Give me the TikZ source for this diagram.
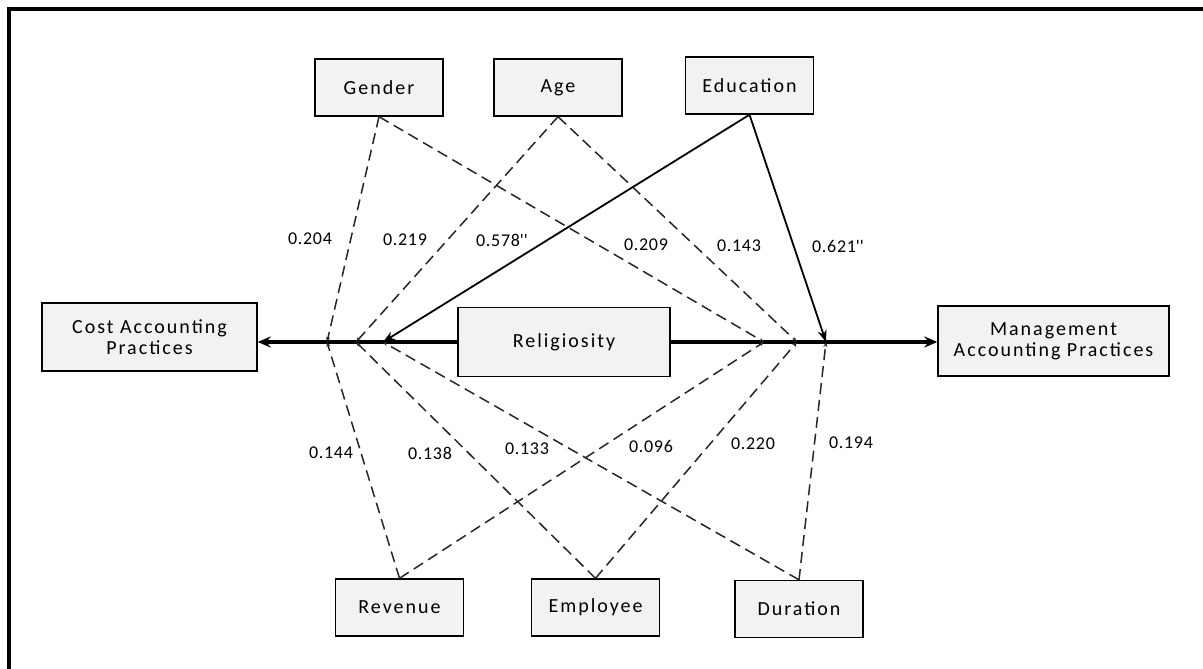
\documentclass[tikz,border=0pt]{standalone}
\usepackage{fontspec}
\setmainfont{Carlito}
\newfontfamily\boxfont[LetterSpace=10]{Carlito}
\newfontfamily\lblfont[LetterSpace=4]{Carlito}
\usetikzlibrary{arrows.meta}
\tikzset{
  varbox/.style={draw, line width=1.4pt, fill=black!5, minimum width=128pt, minimum height=57pt,
    inner sep=0pt, align=center, font=\boxfont\fontsize{20}{21}\selectfont},
  modline/.style={line width=1.5pt, draw=black!85, dash pattern=on 11pt off 6pt, -{Stealth[length=5pt,width=4pt]}},
  eduline/.style={line width=1.8pt, -{Stealth[length=12pt,width=9pt]}},
  mainline/.style={line width=3.5pt, -{Stealth[length=13pt,width=11pt]}},
  coef/.style={font=\lblfont\fontsize{18}{18}\selectfont, inner sep=0pt}
}
\begin{document}
\begin{tikzpicture}[x=1pt,y=-1pt]
\useasboundingbox (0,0) rectangle (1203,669);
\draw[line width=3.5pt, line join=miter] (9,700) -- (9,9) -- (1260,9);

% boxes
\node[varbox] (gender) at (379,87.5) {Gender};
\node[varbox] (age) at (558,87.5) {Age};
\node[varbox] (edu) at (749.5,85.5) {Education};
\node[varbox] (rev) at (399.5,607.5) {Revenue};
\node[varbox] (emp) at (595.5,607.5) {Employee};
\node[varbox] (dur) at (799,609) {Duration};
\node[varbox, minimum width=215pt, minimum height=68pt] (cost) at (149.5,337) {Cost Accounting\\Practices};
\node[varbox, minimum width=231pt, minimum height=70pt] (mgmt) at (1053.5,341) {Management\\Accounting Practices};
\node[varbox, minimum width=212pt, minimum height=69pt] (rel) at (564,342) {Religiosity};

% junctions
\coordinate (L1) at (327,342);
\coordinate (L2) at (356,342);
\coordinate (L3) at (383,342);
\coordinate (R1) at (764,342);
\coordinate (R2) at (797,342);
\coordinate (R3) at (826,342);

% main paths
\draw[mainline] (rel.west) -- (rel.west -| cost.east);
\draw[mainline] (rel.east) -- (rel.east -| mgmt.west);

% moderators
\draw[modline] (gender.south) -- (L1);
\draw[modline] (gender.south) -- (R1);
\draw[modline] (age.south) -- (L2);
\draw[modline] (age.south) -- (R2);
\draw[eduline] (edu.south) -- (L3);
\draw[eduline] (edu.south) -- (R3);
\draw[modline] (rev.north) -- (L1);
\draw[modline] (rev.north) -- (R1);
\draw[modline] (emp.north) -- (L2);
\draw[modline] (emp.north) -- (R2);
\draw[modline] (dur.north) -- (L3);
\draw[modline] (dur.north) -- (R3);

% coefficients
\node[coef] (c1) at (310,239) {0.204};
\node[coef] (c2) at (405,240) {0.219};
\node[coef] (c3) at (502,240) {0.578\textquotesingle\textquotesingle};
\node[coef] (c4) at (646,245) {0.209};
\node[coef] (c5) at (739,246) {0.143};
\node[coef] (c6) at (838,246) {0.621\textquotesingle\textquotesingle};
\node[coef] (c7) at (331,453) {0.144};
\node[coef] (c8) at (430,453) {0.138};
\node[coef] (c9) at (527,449) {0.133};
\node[coef] (c10) at (651,446) {0.096};
\node[coef] (c11) at (753,444) {0.220};
\node[coef] (c12) at (851,443) {0.194};
\end{tikzpicture}
\end{document}
